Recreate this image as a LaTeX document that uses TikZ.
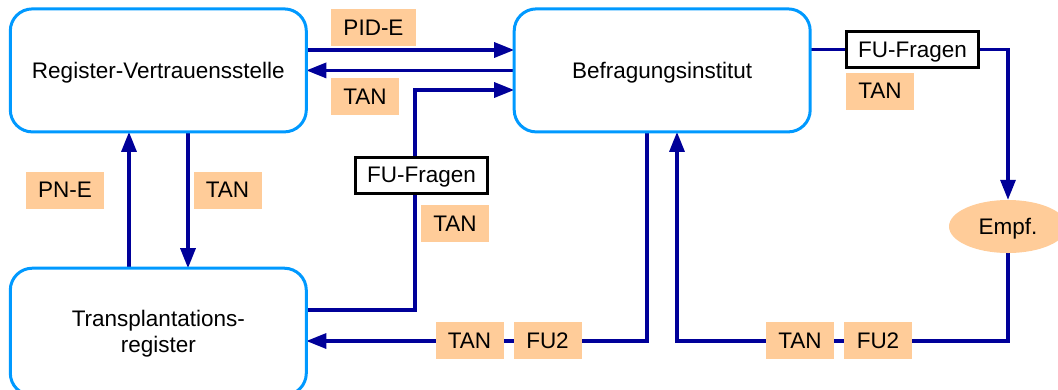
\documentclass[tikz,border=0pt]{standalone}
\usepackage{fontspec}
\setmainfont{Liberation Sans}
\usetikzlibrary{arrows.meta,shapes.geometric,backgrounds}
\definecolor{boxblue}{HTML}{0099FF}
\definecolor{linknavy}{HTML}{000099}
\definecolor{tagorange}{HTML}{FFCC99}
\begin{document}
\begin{tikzpicture}[x=1pt,y=-1pt,
  font=\fontsize{22.5}{26}\selectfont,
  every node/.style={text depth=0pt},
  unit/.style={draw=boxblue, line width=3pt, rounded corners=22pt,
    minimum width=296pt, minimum height=123pt, outer sep=0pt, inner sep=0pt, align=center},
  form/.style={draw=black, fill=white, line width=3pt, minimum width=132pt,
    minimum height=36pt, inner sep=0pt, outer sep=0pt},
  tag/.style={fill=tagorange, inner sep=0pt, minimum height=37pt, minimum width=#1},
  tag/.default=68pt,
  link/.style={draw=linknavy, line width=3.2pt},
  flow/.style={link, -{Triangle[length=20pt,width=15pt]}},
]
\useasboundingbox (0,0) rectangle (1058,389);

% main parties
\node[unit] (rv) at (158.3,70.4) {Register-Vertrauensstelle};
\node[unit] (bi) at (662.2,70.4) {Befragungsinstitut};
\node[unit, minimum height=127pt] (tr) at (158.3,331.7) {Transplantations-\\register};

% questionnaires and recipient
\node[form] (fu1) at (421.5,175) {FU-Fragen};
\node[form] (fu2) at (912.5,49.5) {FU-Fragen};
\node[ellipse, fill=tagorange, minimum width=118pt, minimum height=53pt,
  inner sep=0pt] (empf) at (1008,226.5) {Empf.};

% data tags
\node[tag=85pt] (pide) at (373.5,27.5) {PID-E};
\node[tag] (tanA) at (365,96.5) {TAN};
\node[tag=78pt] (pne) at (65,190) {PN-E};
\node[tag] (tanB) at (227.5,190) {TAN};
\node[tag] (tanC) at (455,223.5) {TAN};
\node[tag] (tanD) at (880,91) {TAN};
\node[tag] (tanE) at (469.5,340.5) {TAN};
\node[tag] (fuE) at (547.5,340.5) {FU2};
\node[tag] (tanF) at (800,340.5) {TAN};
\node[tag] (fuF) at (878,340.5) {FU2};

% bend points
\coordinate (via) at (415,200);
\coordinate (drop) at (647,341);
\coordinate (rise) at (677,341);

% data flows, kept behind the tags
\begin{scope}[on background layer]
  \draw[flow] ([yshift=20.4pt]rv.east) -- ([yshift=20.4pt]bi.west);
  \draw[flow] (bi.west) -- (rv.east);
  \draw[flow] ([yshift=21.7pt]tr.east) -| (via) |- ([yshift=-19.6pt]bi.west);
  \draw[flow] ([xshift=-29.3pt]tr.north) -- ([xshift=-29.3pt]rv.south);
  \draw[flow] ([xshift=29.7pt]rv.south) -- ([xshift=29.7pt]tr.north);
  \draw[link] (bi.east |- fu2) -- (fu2.west);
  \draw[flow] (fu2.east) -| (empf.north);
  \draw[flow] (bi.south -| drop) |- (tr.east |- drop);
  \draw[flow] (empf.south) |- (rise) -- (bi.south -| rise);
\end{scope}
\end{tikzpicture}
\end{document}
